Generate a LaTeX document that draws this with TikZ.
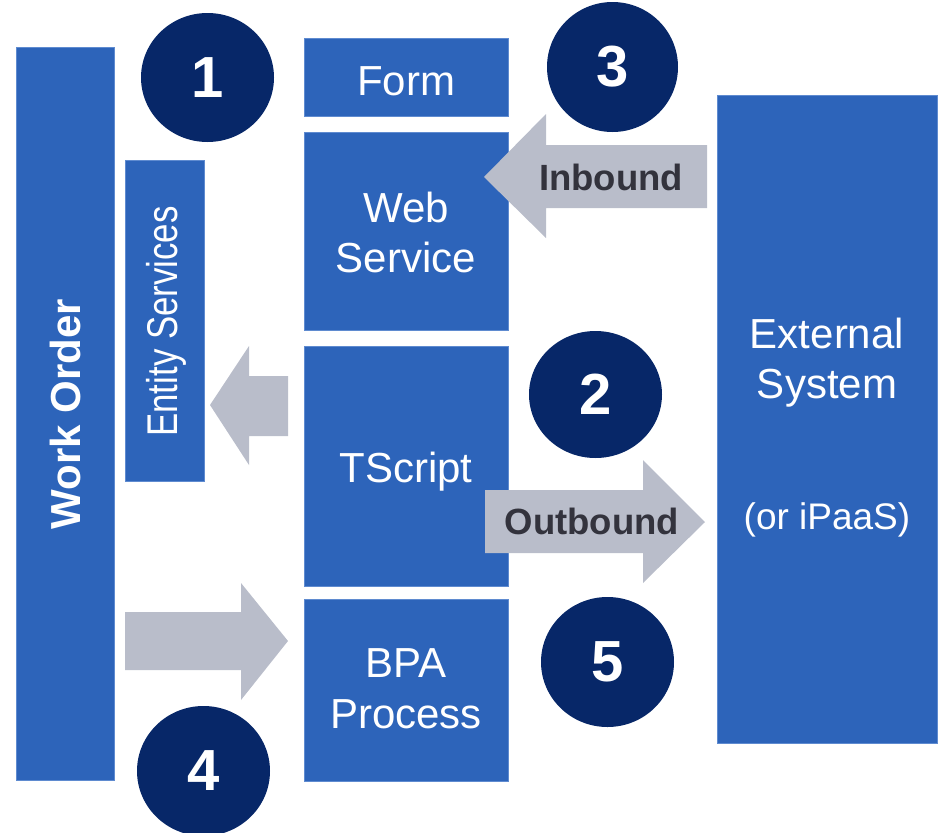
\documentclass[tikz,border=0pt]{standalone}
\usepackage{fontspec}
\usepackage{graphicx}
\setmainfont{Liberation Sans}
\usetikzlibrary{shapes.geometric}
\definecolor{boxblue}{HTML}{2D64BA}
\definecolor{boxedge}{HTML}{5F8BD0}
\definecolor{navy}{HTML}{072768}
\definecolor{arrowgray}{HTML}{B9BDCA}
\definecolor{labeldark}{HTML}{33333D}
\tikzset{
  box/.style={fill=boxblue, draw=boxedge, line width=0.8pt, inner sep=0pt, outer sep=0pt, anchor=north west},
  badge/.style={ellipse, fill=navy, inner sep=0pt, text=white, font=\fontsize{58}{58}\selectfont\bfseries},
  boxtext/.style={text=white, inner sep=0pt, anchor=base, font=\fontsize{42}{50}\selectfont},
  smalltext/.style={text=white, inner sep=0pt, anchor=base, font=\fontsize{37}{44}\selectfont},
  arrowtext/.style={text=labeldark, inner sep=0pt, anchor=base, font=\fontsize{36.5}{44}\selectfont\bfseries},
  blockarrow/.style={fill=arrowgray},
}
\begin{document}
\begin{tikzpicture}[x=1pt, y=-1pt]
\useasboundingbox (0,0) rectangle (938,833);
% boxes
\node[box, minimum width=98, minimum height=733] (wo) at (16,47) {};
\node[box, minimum width=79, minimum height=321] (es) at (125,160) {};
\node[box, minimum width=204, minimum height=78] (form) at (304,38) {};
\node[box, minimum width=204, minimum height=198] (ws) at (304,132) {};
\node[box, minimum width=204, minimum height=240] (ts) at (304,346) {};
\node[box, minimum width=204, minimum height=182] (bpa) at (304,599) {};
\node[box, minimum width=220, minimum height=648] (ext) at (717,95) {};
% block arrows
\fill[blockarrow] (707,145) -- (546,145) -- (546,114) -- (484,177) -- (546,238) -- (546,208) -- (707,208) -- cycle;
\fill[blockarrow] (288,376) -- (249,376) -- (249,346) -- (210,405) -- (249,465) -- (249,436) -- (288,436) -- cycle;
\fill[blockarrow] (485,490) -- (643,490) -- (643,460) -- (705,522) -- (643,583) -- (643,553) -- (485,553) -- cycle;
\fill[blockarrow] (125,612) -- (241,612) -- (241,583) -- (288,641) -- (241,700) -- (241,670) -- (125,670) -- cycle;
% badges
\node[badge, minimum width=133, minimum height=129] (b1) at (207.5,77.5) {1};
\node[badge, minimum width=131, minimum height=130] (b3) at (612.5,67) {3};
\node[badge, minimum width=133, minimum height=127] (b2) at (595.5,394.5) {2};
\node[badge, minimum width=133, minimum height=130] (b5) at (607.5,662) {5};
\node[badge, minimum width=133, minimum height=130] (b4) at (203.5,771) {4};
% texts
\node[text=white, inner sep=0pt, rotate=90, font=\fontsize{42}{50}\selectfont\bfseries] (wo-t) at (65,414) {Work Order};
\node[text=white, inner sep=0pt, rotate=90, anchor=base, font=\fontsize{43}{50}\selectfont] (es-t) at (177,321.5) {\scalebox{0.81}[1]{Entity Services}};
\node[boxtext] (form-t) at (406,95) {Form};
\node[boxtext] (ws-t1) at (406,222) {Web};
\node[boxtext] (ws-t2) at (406,272) {Service};
\node[boxtext] (ts-t) at (406,482) {TScript};
\node[boxtext] (bpa-t1) at (406,677) {BPA};
\node[boxtext] (bpa-t2) at (406,728) {Process};
\node[boxtext] (ext-t1) at (827,348) {External};
\node[boxtext] (ext-t2) at (827,398) {System};
\node[smalltext] (ext-t3) at (827,529) {(or iPaaS)};
\node[arrowtext] (in-t) at (611,190) {Inbound};
\node[arrowtext] (out-t) at (592,534) {Outbound};
\end{tikzpicture}
\end{document}
